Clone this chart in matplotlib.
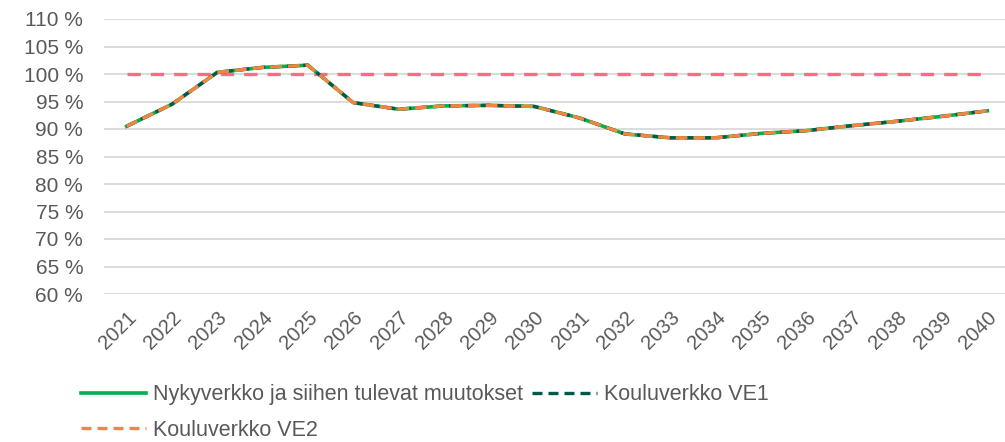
import matplotlib.pyplot as plt
from matplotlib.lines import Line2D

plt.rcParams['font.family'] = ['Liberation Sans', 'DejaVu Sans']

years = [str(y) for y in range(2021, 2041)]
nykyverkko = [90.5, 94.5, 100.3, 101.2, 101.6, 94.8, 93.6, 94.2, 94.3, 94.1,
              92.0, 89.1, 88.4, 88.4, 89.2, 89.7, 90.6, 91.4, 92.3, 93.3]
ve1 = list(nykyverkko)
ve2 = list(nykyverkko)
target = [100] * len(years)

labels = ['Nykyverkko ja siihen tulevat muutokset', 'Kouluverkko VE1', 'Kouluverkko VE2']

fig = plt.figure(figsize=(10.05, 4.42), dpi=100)
ax = fig.add_axes([104 / 1005, 1 - 294 / 442, 906 / 1005, 275 / 442])

x = list(range(len(years)))
ax.plot(x, target, color='#FF6B85', lw=2.4, dashes=(4, 3), zorder=2)
l1, = ax.plot(x, nykyverkko, color='#00B050', lw=2.6, zorder=3)
l2, = ax.plot(x, ve1, color='#005A4A', lw=2.4, dashes=(3, 1.8), zorder=4)
l3, = ax.plot(x, ve2, color='#F4853F', lw=2.4, dashes=(3.5, 1.8), zorder=5)

ax.set_xlim(-0.5, len(years) - 0.5)
ax.set_ylim(60, 110)
ax.set_yticks(range(60, 111, 5))
ax.set_yticklabels([f'{v} %' for v in range(60, 111, 5)])
ax.set_xticks(x)
ax.set_xticklabels(years, rotation=45, ha='right', rotation_mode='anchor')
ax.tick_params(axis='both', length=0, labelsize=15, colors='#595959')
ax.tick_params(axis='x', pad=10, labelsize=14.5)
ax.tick_params(axis='y', pad=15)
ax.grid(axis='y', color='#D9D9D9', lw=1.3)
ax.set_axisbelow(True)
for s in ax.spines.values():
    s.set_visible(False)

h1 = Line2D([], [], color='#00B050', lw=2.6)
h2 = Line2D([], [], color='#005A4A', lw=2.4, dashes=(3, 1.8))
h3 = Line2D([], [], color='#F4853F', lw=2.4, dashes=(3, 1.8))
leg = fig.legend([h1, h3, h2], [labels[0], labels[2], labels[1]], ncol=2,
                 loc='upper left', bbox_to_anchor=(66 / 1005, 1 - 369 / 442),
                 frameon=False, fontsize=15.5, handlelength=3.0,
                 handletextpad=0.33, columnspacing=0.45, labelspacing=0.68,
                 borderpad=0.2)
for t in leg.get_texts():
    t.set_color('#595959')

fig.savefig('out.png', dpi=100)
